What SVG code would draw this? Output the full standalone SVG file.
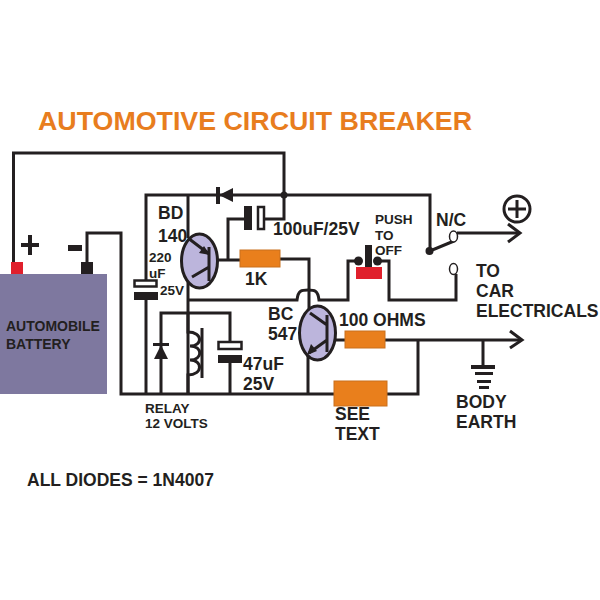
<svg xmlns="http://www.w3.org/2000/svg" width="600" height="600" viewBox="0 0 600 600">
<style>
text{font-family:"Liberation Sans",Arial,sans-serif;font-weight:bold;fill:#231f20}
.w{fill:none;stroke:#231f20;stroke-width:3;stroke-linejoin:miter}
.t{fill:#bcb5dc;stroke:#231f20;stroke-width:3}
.r{fill:#e97f1c;stroke:#c9701c;stroke-width:1}
.k{fill:#231f20}
.p{fill:#fff;stroke:#231f20;stroke-width:2.5}
.a{font-size:17.500px}
.b{font-size:13.500px}
</style>
<rect width="600" height="600" fill="#fff"/>
<g id="connectors">
<path class="w" d="M13.500 262V153H284V219H264"/>
<path class="w" d="M146 280V195H430V251L454 241"/>
<path class="w" d="M188 195V238M188 282V394"/>
<path class="w" d="M228 259V219H244"/>
<path class="w" d="M217 260H240M280 259H309V313"/>
<path class="w" d="M188 300H297C298 290 302 290 308 290C314 290 318 290 319 300H348V261H358M377 261H389V300H456V274"/>
<path class="w" d="M87 262V233H121V394H334M387 394H418V340M308 353V394"/>
<path class="w" d="M146 300V394"/>
<path class="w" d="M161 394V313H230V341M230 363V394"/>
<path class="w" d="M188 313V332C203 332 203 346 190 346C203 346 203 360 190 360C203 360 203 375 188 375V394"/>
<path class="w" d="M336 340H345M385 340H520M483 340V366"/>
<path class="w" d="M457 233H520"/>
<path class="w" d="M508 224L520 233L508 242M510 331L522 340L510 348"/>
</g>
<g id="title"><text x="38" y="130" font-size="26" textLength="434" lengthAdjust="spacingAndGlyphs" style="fill:#e87d1e">AUTOMOTIVE CIRCUIT BREAKER</text></g>
<g id="battery">
<rect x="0" y="274" width="107" height="120" fill="#7e789f"/>
<rect x="11" y="262" width="12" height="12" fill="#e0202c"/>
<rect x="81" y="262" width="12" height="12" class="k"/>
<path class="k" d="M27 241H31V249H38V253H31V261H27V253H20V249H27Z" transform="translate(1 -6)"/>
<rect x="68" y="245" width="14" height="6" class="k"/>
<text x="6" y="331" font-size="14">AUTOMOBILE</text>
<text x="6" y="349" font-size="14">BATTERY</text>
</g>
<g id="d1"><path class="k" d="M219 195L233 188V202Z"/><rect x="216" y="187" width="4" height="17" class="k"/></g>
<g id="c100">
<rect x="244" y="206" width="8" height="24" class="k"/>
<rect x="258" y="207" width="6" height="22" class="p"/>
<text class="a" x="273" y="235">100uF/25V</text>
</g>
<g id="q1">
<ellipse class="t" cx="199.500" cy="261" rx="18" ry="27"/>
<path class="w" d="M209 247V281M188 238L209 254M192 277L209 267"/>
<path class="k" d="M210 255L199 253L204 246Z"/>
<text class="a" x="158" y="219">BD</text><text class="a" x="158" y="242">140</text>
</g>
<g id="r1k"><rect class="r" x="240" y="250" width="40" height="17"/><text class="a" x="245" y="285">1K</text></g>
<g id="c220">
<rect x="134.500" y="280.500" width="22" height="6" class="p"/>
<rect x="134" y="292" width="24" height="8" class="k"/>
<text class="b" x="149" y="262">220</text><text class="b" x="149" y="278">uF</text><text class="b" x="160" y="295">25V</text>
</g>
<g id="d2"><rect x="153" y="343" width="16" height="3" class="k"/><path class="k" d="M161 345L168 359H154Z"/></g>
<g id="relay">
<path class="w" d="M202 328V378"/>
<text class="b" x="145" y="413">RELAY</text><text class="b" x="145" y="428">12 VOLTS</text>
</g>
<g id="c47">
<rect x="218.500" y="342" width="23" height="7" class="p"/>
<rect x="218" y="355" width="24" height="8" class="k"/>
<text class="a" x="243" y="370">47uF</text><text class="a" x="243" y="390">25V</text>
</g>
<g id="q2">
<ellipse class="t" cx="317.500" cy="333" rx="18" ry="27"/>
<path class="w" d="M327 315V352M310 313L327 325M327 340L309 353"/>
<path class="k" d="M307 355L311 344L317 351Z"/>
<text class="a" x="268" y="320">BC</text><text class="a" x="268" y="340">547</text>
</g>
<g id="r100"><rect class="r" x="345" y="331" width="40" height="17"/><text class="a" x="339" y="326">100 OHMS</text></g>
<g id="rsee"><rect class="r" x="334" y="381" width="53" height="25"/><text class="a" x="335" y="420">SEE</text><text class="a" x="335" y="440">TEXT</text></g>
<g id="button">
<rect x="365" y="245" width="7" height="24" class="k"/>
<rect x="356" y="267" width="26" height="12" fill="#e0202c"/>
<circle cx="358.500" cy="261" r="4.500" class="k"/><circle cx="377.500" cy="261" r="4.500" class="k"/>
<text class="b" x="375" y="224">PUSH</text><text class="b" x="375" y="240">TO</text><text class="b" x="375" y="255">OFF</text>
</g>
<g id="switch">
<circle cx="284" cy="195" r="3.500" class="k"/>
<circle cx="429.500" cy="251" r="4" class="k"/>
<ellipse cx="453.500" cy="236.500" rx="4" ry="5.500" fill="#fff" stroke="#231f20" stroke-width="1.500"/>
<ellipse cx="453.500" cy="269" rx="4" ry="5.500" fill="#fff" stroke="#231f20" stroke-width="1.500"/>
<text class="a" x="436" y="226">N/C</text>
</g>
<g id="plus"><circle cx="517" cy="209" r="13" fill="#fff" stroke="#231f20" stroke-width="3"/><path class="w" d="M508 209H526M517 200V218"/></g>
<g id="car"><text class="a" x="476" y="277">TO</text><text class="a" x="476" y="297">CAR</text><text class="a" x="476" y="317">ELECTRICALS</text></g>
<g id="earth">
<rect x="471" y="365" width="24" height="4" class="k"/><rect x="475" y="372" width="18" height="3" class="k"/><rect x="477" y="380" width="14" height="3" class="k"/><rect x="479" y="386" width="10" height="3" class="k"/>
<text class="a" x="456" y="408">BODY</text><text class="a" x="456" y="428">EARTH</text>
</g>
<g id="note"><text x="27" y="486" font-size="17.500">ALL DIODES = 1N4007</text></g>
</svg>
